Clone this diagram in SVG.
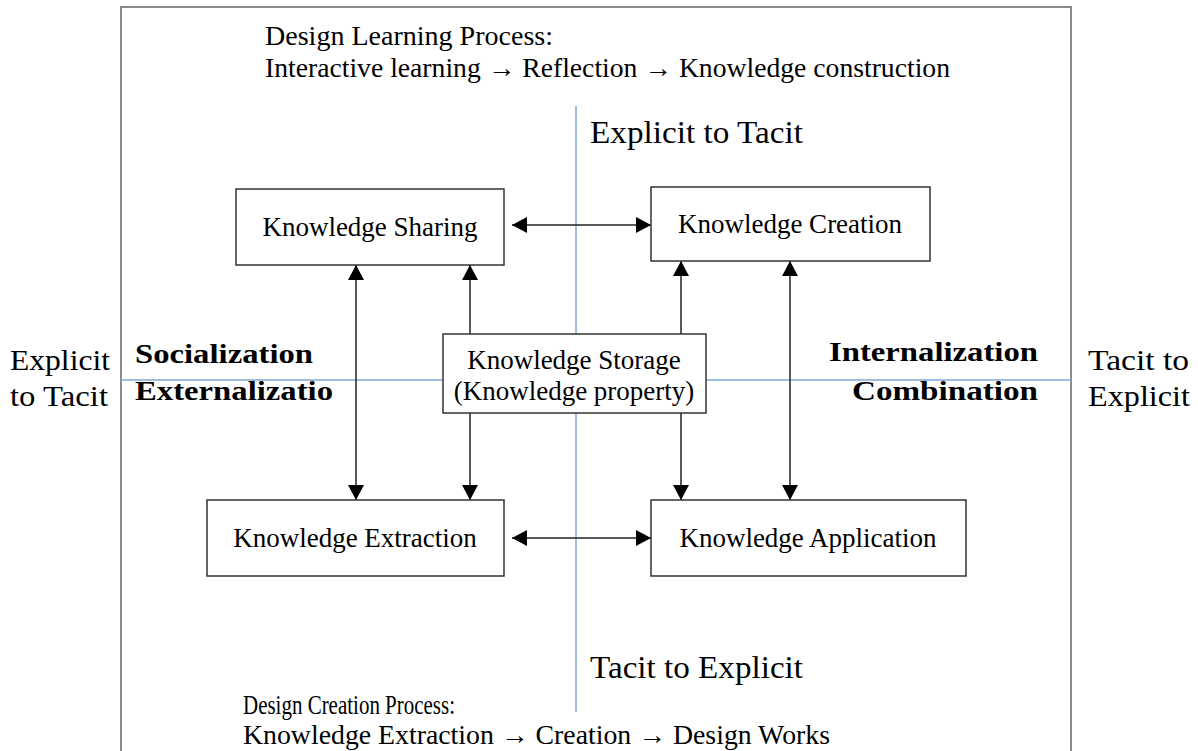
<svg xmlns="http://www.w3.org/2000/svg" width="1198" height="751" viewBox="0 0 1198 751">
<defs>
<marker id="ah" markerUnits="userSpaceOnUse" markerWidth="16" markerHeight="16" refX="15" refY="8" orient="auto-start-reverse"><path d="M0,0 L15,8 L0,16 z" fill="#000"/></marker>
<style>
.t{font-family:"Liberation Serif","Times New Roman",serif;fill:#000}
.b{font-family:"Liberation Serif","Times New Roman",serif;font-weight:bold;fill:#000}
.box{fill:#fff;stroke:#333;stroke-width:1.5}
.ax{stroke:#7fa8d8;stroke-width:1.5;fill:none}
.c{stroke:#222;stroke-width:1.5;fill:none}
</style>
</defs>
<rect width="1198" height="751" fill="#fff"/>
<rect x="121" y="7" width="950" height="760" fill="none" stroke="#666" stroke-width="1.5"/>
<g id="axes">
<line class="ax" x1="576" y1="106" x2="576" y2="712"/>
<line class="ax" x1="121" y1="380" x2="1071" y2="380"/>
</g>
<g id="labels">
<text class="t" x="265" y="45" font-size="27" textLength="288" lengthAdjust="spacingAndGlyphs">Design Learning Process:</text>
<text class="t" x="265" y="77" font-size="27" textLength="685" lengthAdjust="spacingAndGlyphs">Interactive learning → Reflection → Knowledge construction</text>
<text class="t" x="590" y="143" font-size="32" textLength="213" lengthAdjust="spacingAndGlyphs">Explicit to Tacit</text>
<text class="t" x="590" y="678" font-size="32" textLength="213" lengthAdjust="spacingAndGlyphs">Tacit to Explicit</text>
<text class="t" x="243" y="714" font-size="27" textLength="212" lengthAdjust="spacingAndGlyphs">Design Creation Process:</text>
<text class="t" x="243" y="744" font-size="27" textLength="587" lengthAdjust="spacingAndGlyphs">Knowledge Extraction → Creation → Design Works</text>
<text class="t" x="10" y="370" font-size="29" textLength="100" lengthAdjust="spacingAndGlyphs">Explicit</text>
<text class="t" x="10" y="406" font-size="29" textLength="98" lengthAdjust="spacingAndGlyphs">to Tacit</text>
<text class="t" x="1088" y="370" font-size="29" textLength="101" lengthAdjust="spacingAndGlyphs">Tacit to</text>
<text class="t" x="1088" y="406" font-size="29" textLength="102" lengthAdjust="spacingAndGlyphs">Explicit</text>
<text class="b" x="135" y="363" font-size="27" textLength="178" lengthAdjust="spacingAndGlyphs">Socialization</text>
<text class="b" x="135" y="400" font-size="27" textLength="198" lengthAdjust="spacingAndGlyphs">Externalizatio</text>
<text class="b" x="829" y="361" font-size="27" textLength="209" lengthAdjust="spacingAndGlyphs">Internalization</text>
<text class="b" x="852" y="400" font-size="27" textLength="186" lengthAdjust="spacingAndGlyphs">Combination</text>
</g>
<g id="connectors">
<line class="c" x1="512" y1="225" x2="651" y2="225" marker-start="url(#ah)" marker-end="url(#ah)"/>
<line class="c" x1="512" y1="538" x2="651" y2="538" marker-start="url(#ah)" marker-end="url(#ah)"/>
<line class="c" x1="356" y1="265" x2="356" y2="500" marker-start="url(#ah)" marker-end="url(#ah)"/>
<line class="c" x1="790" y1="261" x2="790" y2="500" marker-start="url(#ah)" marker-end="url(#ah)"/>
<line class="c" x1="470" y1="334" x2="470" y2="265" marker-end="url(#ah)"/>
<line class="c" x1="470" y1="413" x2="470" y2="500" marker-end="url(#ah)"/>
<line class="c" x1="681" y1="334" x2="681" y2="261" marker-end="url(#ah)"/>
<line class="c" x1="681" y1="413" x2="681" y2="500" marker-end="url(#ah)"/>
</g>
<g id="sharing">
<rect class="box" x="236" y="189" width="268" height="76"/>
<text class="t" x="370" y="236" font-size="27" text-anchor="middle">Knowledge Sharing</text>
</g>
<g id="creation">
<rect class="box" x="651" y="187" width="279" height="74"/>
<text class="t" x="790" y="233" font-size="27" text-anchor="middle">Knowledge Creation</text>
</g>
<g id="storage">
<rect class="box" x="443" y="334" width="263" height="79"/>
<text class="t" x="574" y="369" font-size="27" text-anchor="middle">Knowledge Storage</text>
<text class="t" x="574" y="400" font-size="27" text-anchor="middle">(Knowledge property)</text>
</g>
<g id="extraction">
<rect class="box" x="207" y="500" width="297" height="76"/>
<text class="t" x="355" y="547" font-size="27" text-anchor="middle">Knowledge Extraction</text>
</g>
<g id="application">
<rect class="box" x="651" y="500" width="315" height="76"/>
<text class="t" x="808" y="547" font-size="27" text-anchor="middle">Knowledge Application</text>
</g>
</svg>
